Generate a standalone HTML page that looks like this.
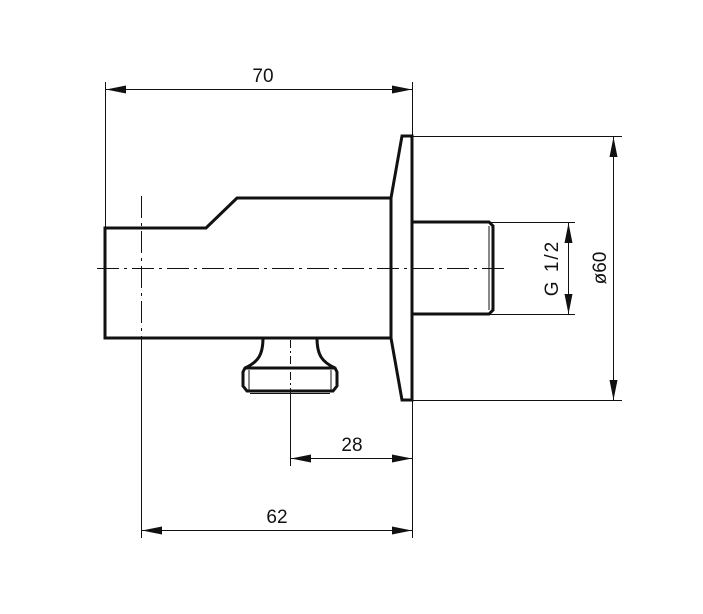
<!DOCTYPE html>
<html><head><meta charset="utf-8"><style>
html,body{margin:0;padding:0;background:#fff;}
svg{display:block;}
text{font-family:"Liberation Sans",sans-serif;font-size:19px;fill:#111;}
</style></head><body>
<svg width="703" height="614" viewBox="0 0 703 614" xmlns="http://www.w3.org/2000/svg">
<defs>
<marker id="a" viewBox="0 0 20 8" refX="20" refY="4" markerWidth="20" markerHeight="8" orient="auto-start-reverse" markerUnits="userSpaceOnUse"><path d="M0,0 L20,4 L0,8 Z" fill="#111"/></marker>
</defs>
<g stroke="#111" stroke-width="1" fill="none">
<line x1="105.5" y1="82" x2="105.5" y2="228"/>
<line x1="412.5" y1="82" x2="412.5" y2="136"/>
<line x1="412.5" y1="400" x2="412.5" y2="538"/>
<line x1="413" y1="136.5" x2="622" y2="136.5"/>
<line x1="413" y1="400.5" x2="622" y2="400.5"/>
<line x1="413" y1="222.5" x2="575" y2="222.5"/>
<line x1="413" y1="314.5" x2="575" y2="314.5"/>
<line x1="141.5" y1="338" x2="141.5" y2="538"/>
<line x1="290.5" y1="392" x2="290.5" y2="466"/>
<line x1="106" y1="89.5" x2="412" y2="89.5" marker-start="url(#a)" marker-end="url(#a)"/>
<line x1="291" y1="458.5" x2="412" y2="458.5" marker-start="url(#a)" marker-end="url(#a)"/>
<line x1="142" y1="530.5" x2="412" y2="530.5" marker-start="url(#a)" marker-end="url(#a)"/>
<line x1="568.5" y1="223" x2="568.5" y2="314" marker-start="url(#a)" marker-end="url(#a)"/>
<line x1="613.5" y1="137" x2="613.5" y2="400" marker-start="url(#a)" marker-end="url(#a)"/>
<line x1="97" y1="268.5" x2="505" y2="268.5" stroke-dasharray="22,5,3,5"/>
<line x1="141.5" y1="196" x2="141.5" y2="338" stroke-dasharray="22,5,3,5"/>
<line x1="290.5" y1="340" x2="290.5" y2="392" stroke-dasharray="8,3,2,3"/>
</g>
<g stroke="#111" stroke-width="3" fill="none" stroke-linejoin="miter">
<path d="M105,228 L206,228 L237,198 L391,198 L402,136 L412,136 L412,400 L402,400 L391,338 L105,338 Z"/>
<line x1="391" y1="198" x2="391" y2="338"/>
<path d="M413,222 L489,222 L493,226 L493,310 L489,314 L413,314"/>
<path d="M263,338 C263,355 258,362 245,368 L243,372 L243,386 L247,391 L333,391 L337,386 L337,372 L335,368 C322,362 317,355 317,338"/>
<line x1="245" y1="368" x2="335" y2="368"/>
</g>
<g stroke="#111" stroke-width="1" fill="none">
<line x1="249" y1="370" x2="249" y2="390"/>
<line x1="331" y1="370" x2="331" y2="390"/>
<line x1="250" y1="393.5" x2="330" y2="393.5"/>
<line x1="489" y1="226" x2="489" y2="310"/>
</g>
<text x="263" y="82" text-anchor="middle">70</text>
<text x="352" y="451" text-anchor="middle">28</text>
<text x="277" y="523" text-anchor="middle">62</text>
<text transform="translate(558,268) rotate(-90)" text-anchor="middle" letter-spacing="2">G 1/2</text>
<text transform="translate(606,268) rotate(-90)" text-anchor="middle">ø60</text>
</svg>
</body></html>
